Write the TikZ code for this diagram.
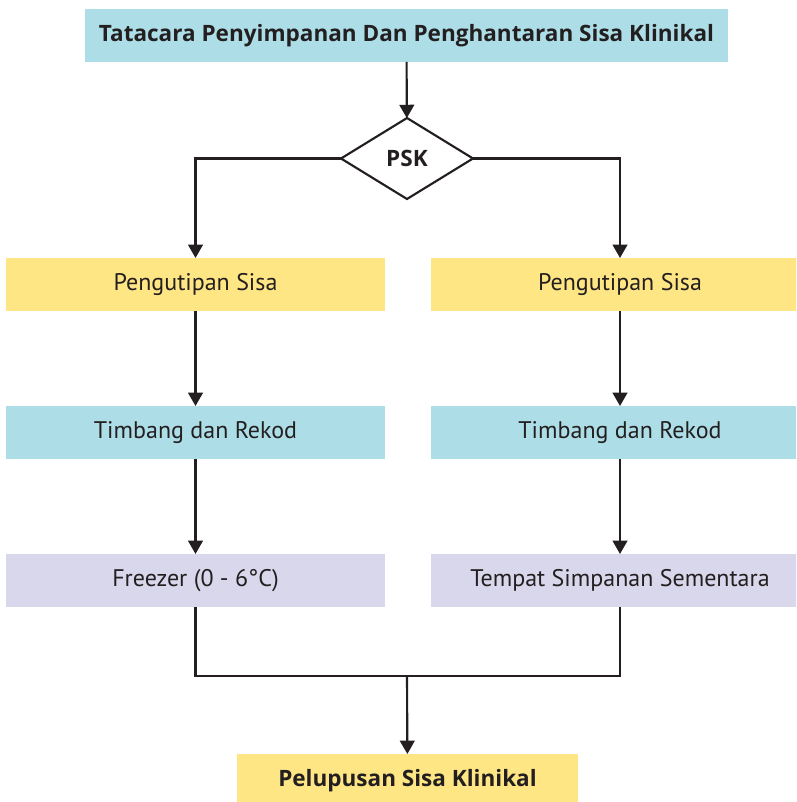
\documentclass[tikz,border=0pt]{standalone}
\usepackage{fontspec}
\setmainfont{PT Sans}
\newfontfamily\headfont{Open Sans}
\usetikzlibrary{shapes.geometric,arrows.meta}
\definecolor{boxcyan}{HTML}{ADDEE7}
\definecolor{boxyellow}{HTML}{FFE684}
\definecolor{boxlilac}{HTML}{D9D7EB}
\definecolor{ink}{HTML}{231F20}
\begin{document}
\begin{tikzpicture}[x=0.75pt,y=-0.75pt,
  every node/.style={inner sep=0pt,outer sep=0pt,text=ink},
  stage/.style={rectangle,minimum width=284.25pt,minimum height=39.75pt,
    font=\fontsize{18}{21}\selectfont},
  headbox/.style={rectangle,fill=boxcyan,minimum height=39.75pt,
    font=\headfont\bfseries\fontsize{16.9}{20}\selectfont},
  decision/.style={diamond,draw=ink,line width=1.6pt,fill=white,
    minimum width=99pt,minimum height=60.75pt,
    font=\headfont\bfseries\fontsize{16.9}{20}\selectfont},
  flow/.style={draw=ink,line width=1.6pt,-{Triangle[width=11pt,length=10pt]}},
  link/.style={draw=ink,line width=1.6pt}]
\useasboundingbox (0,0) rectangle (796,802);
\clip (0,0) rectangle (796,802);

% header and decision
\node[headbox,minimum width=482.25pt] (title) at (406.5,35.5)
  {Tatacara Penyimpanan Dan Penghantaran Sisa Klinikal};
\node[decision] (psk) at (407,158.5) {PSK};

% left column
\node[stage,fill=boxyellow] (l1) at (195.5,284.5) {Pengutipan Sisa};
\node[stage,fill=boxcyan]   (l2) at (195.5,432.5) {Timbang dan Rekod};
\node[stage,fill=boxlilac]  (l3) at (195.5,580.5) {Freezer (0 - 6°C)};

% right column
\node[stage,fill=boxyellow] (r1) at (620,284.5) {Pengutipan Sisa};
\node[stage,fill=boxcyan]   (r2) at (620,432.5) {Timbang dan Rekod};
\node[stage,fill=boxlilac]  (r3) at (620,580.5) {Tempat Simpanan Sementara};

% final step
\node[headbox,fill=boxyellow,minimum width=255.75pt] (end) at (407.5,780.5)
  {Pelupusan Sisa Klinikal};

\coordinate (join) at (407,676);

% connectors
\draw[flow] (title) -- (psk);
\draw[flow] (psk.west) -| (l1.north);
\draw[flow] (psk.east) -| (r1.north);
\draw[flow] (l1) -- (l2);
\draw[flow] (l2) -- (l3);
\draw[flow] (r1) -- (r2);
\draw[flow] (r2) -- (r3);
\draw[link] (l3.south) |- (join) -| (r3.south);
\draw[flow] (join) -- (end);
\end{tikzpicture}
\end{document}
